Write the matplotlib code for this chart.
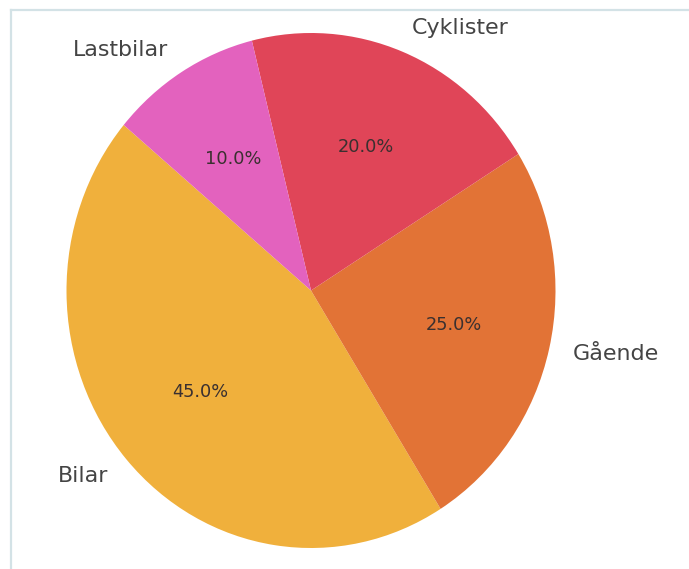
import matplotlib
matplotlib.use("Agg")
import matplotlib.pyplot as plt
from matplotlib.lines import Line2D

labels = ["Bilar", "Gående", "Cyklister", "Lastbilar"]
values = [45, 25, 20, 10]
colors = ["#F0B03C", "#E27336", "#E04558", "#E362BE"]

W, H = 689, 569
fig = plt.figure(figsize=(W / 100, H / 100), dpi=100)
fig.patch.set_facecolor("white")

# frame lines (container border)
border = "#D3E2E6"
fig.add_artist(Line2D([11 / W, 11 / W], [0, 1 - 9.5 / H], transform=fig.transFigure,
                      color=border, lw=1.6))
fig.add_artist(Line2D([11 / W, 1], [1 - 9.5 / H, 1 - 9.5 / H], transform=fig.transFigure,
                      color=border, lw=1.6))

cx, cy = 311, 569 - 290.5
rx, ry = 244.5, 257.5
ax = fig.add_axes([(cx - rx) / W, (cy - ry) / H, 2 * rx / W, 2 * ry / H])

wedges, texts, autotexts = ax.pie(
    values, labels=labels, colors=colors, autopct="%1.1f%%",
    startangle=140, labeldistance=1.1, pctdistance=0.6,
    textprops={"fontsize": 15.9, "color": "#444444"},
)
for t in autotexts:
    t.set_fontsize(12.8)
    t.set_color("#3a3030")
ax.set_aspect("auto")
ax.set_xlim(-1, 1)
ax.set_ylim(-1, 1)
ax.axis("off")

fig.savefig("out.png", dpi=100, facecolor="white")
